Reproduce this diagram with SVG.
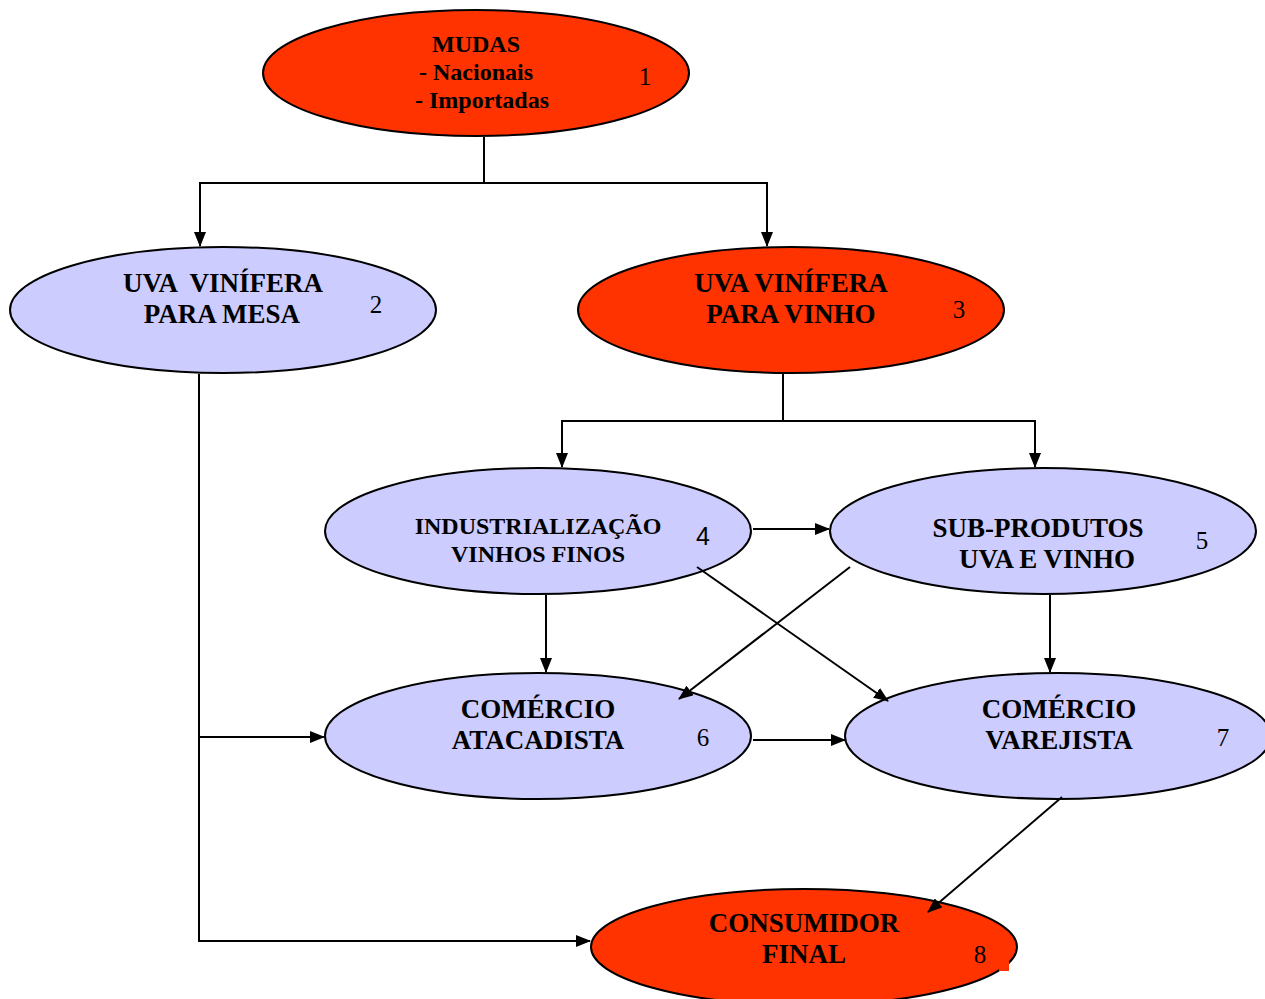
<svg xmlns="http://www.w3.org/2000/svg" width="1265" height="999" viewBox="0 0 1265 999">
<style>
.red{fill:#FF3300;stroke:#000;stroke-width:2}
.lav{fill:#CCCCFF;stroke:#000;stroke-width:2}
.t{font-family:"Liberation Serif",serif;font-weight:bold;font-size:27px;fill:#000;text-anchor:middle}
.t1{font-family:"Liberation Serif",serif;font-weight:bold;font-size:24px;fill:#000;text-anchor:middle}
.n{font-family:"Liberation Serif",serif;font-size:25px;fill:#000;text-anchor:middle}
.c{fill:none;stroke:#000;stroke-width:2}
</style>
<defs>
<marker id="a" markerWidth="15" markerHeight="12" refX="14" refY="6" orient="auto" markerUnits="userSpaceOnUse" viewBox="0 0 15 12">
<path d="M0,0 L15,6 L0,12 z" fill="#000"/>
</marker>
</defs>
<rect width="1265" height="999" fill="#fff"/>
<g id="n1">
<ellipse class="red" cx="476" cy="73" rx="213" ry="63"/>
<text class="t1" x="476" y="52">MUDAS</text>
<text class="t1" x="476" y="80">- Nacionais</text>
<text class="t1" x="482" y="108">- Importadas</text>
<text class="n" x="645" y="85">1</text>
</g>
<g id="n2">
<ellipse class="lav" cx="223" cy="310" rx="213" ry="63"/>
<text class="t" x="223" y="292" xml:space="preserve">UVA  VINÍFERA</text>
<text class="t" x="222" y="323">PARA MESA</text>
<text class="n" x="376" y="313">2</text>
</g>
<g id="n3">
<ellipse class="red" cx="791" cy="310" rx="213" ry="63"/>
<text class="t" x="791" y="292">UVA VINÍFERA</text>
<text class="t" x="791" y="323">PARA VINHO</text>
<text class="n" x="959" y="318">3</text>
</g>
<g id="n4">
<ellipse class="lav" cx="538" cy="531" rx="213" ry="63"/>
<text class="t1" x="538" y="534">INDUSTRIALIZAÇÃO</text>
<text class="t1" x="538" y="562">VINHOS FINOS</text>
<text x="703" y="545" style="font-family:'Liberation Sans',sans-serif;font-size:25px;text-anchor:middle">4</text>
</g>
<g id="n5">
<ellipse class="lav" cx="1043" cy="531" rx="213" ry="63"/>
<text class="t" x="1038" y="537">SUB-PRODUTOS</text>
<text class="t" x="1047" y="568">UVA E VINHO</text>
<text class="n" x="1202" y="549">5</text>
</g>
<g id="n6">
<ellipse class="lav" cx="538" cy="736" rx="213" ry="63"/>
<text class="t" x="538" y="718">COMÉRCIO</text>
<text class="t" x="538" y="749">ATACADISTA</text>
<text class="n" x="703" y="746">6</text>
</g>
<g id="n7">
<ellipse class="lav" cx="1058" cy="736" rx="213" ry="63"/>
<text class="t" x="1059" y="718">COMÉRCIO</text>
<text class="t" x="1059" y="749">VAREJISTA</text>
<text class="n" x="1223" y="746">7</text>
</g>
<g id="n8">
<ellipse class="red" cx="804" cy="947" rx="213" ry="58"/>
<text class="t" x="804" y="932">CONSUMIDOR</text>
<text class="t" x="804" y="963">FINAL</text>
<text class="n" x="980" y="963">8</text>
<rect x="999" y="957" width="10" height="14" fill="#FF3300"/>
</g>
<g id="connectors">
<path class="c" d="M484,137 V183 H200 V246" marker-end="url(#a)"/>
<path class="c" d="M484,183 H767 V246" marker-end="url(#a)"/>
<path class="c" d="M783,374 V421 H562 V467" marker-end="url(#a)"/>
<path class="c" d="M783,421 H1035 V467" marker-end="url(#a)"/>
<path class="c" d="M753,529 H829" marker-end="url(#a)"/>
<path class="c" d="M546,595 V672" marker-end="url(#a)"/>
<path class="c" d="M1050,595 V672" marker-end="url(#a)"/>
<path class="c" d="M697,567 L888,701" marker-end="url(#a)"/>
<path class="c" d="M850,567 L679,699" marker-end="url(#a)"/>
<path class="c" d="M753,740 H845" marker-end="url(#a)"/>
<path class="c" d="M1062,797 L928,912" marker-end="url(#a)"/>
<path class="c" d="M199,374 V941 H590" marker-end="url(#a)"/>
<path class="c" d="M199,737 H324" marker-end="url(#a)"/>
</g>
</svg>
